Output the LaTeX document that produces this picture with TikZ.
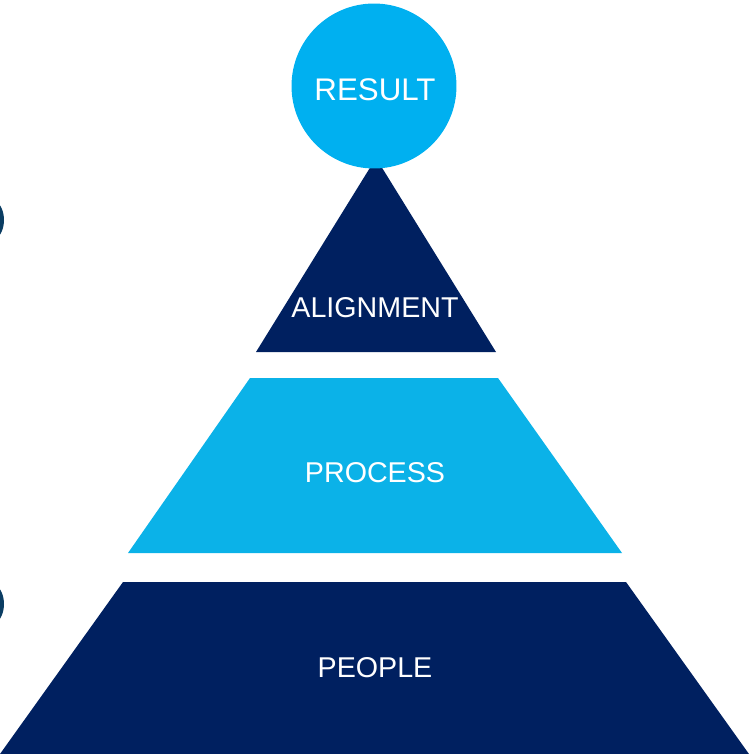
\documentclass[tikz,border=0pt]{standalone}
\usepackage{fontspec}
\setmainfont{Liberation Sans}
\usetikzlibrary{positioning}
\definecolor{navy}{HTML}{002060}
\definecolor{sky}{HTML}{00B0F0}
\definecolor{skylayer}{HTML}{0BB2E8}
\definecolor{knob}{HTML}{0B3D63}

\begin{document}
\begin{tikzpicture}[x=0.02cm, y=-0.02cm,
	layer text/.style={text=white, inner sep=0pt, font=\fontsize{16.3}{18}\selectfont},
	top ball/.style={circle, fill=sky, minimum size=3.3cm, inner sep=0pt}]
		\clip (0,0) rectangle (749,754);
		
		% markers cut by the left edge
		\fill[knob] (-26,220) circle[radius=30];
		\fill[knob] (-26,604) circle[radius=30];
		
		% pyramid layers
		\fill[navy] (376,158) -- (496,352) -- (256,352) -- cycle;
		\fill[skylayer] (250,378) -- (498,378) -- (622,553) -- (128,553) -- cycle;
		\fill[navy] (123,582) -- (626,582) -- (749,754) -- (0,754) -- cycle;
		
		\node[top ball] (result) at (374,86) {};
		
		\node[layer text, font=\fontsize{17.8}{19}\selectfont] (resultlabel) at (375,90) {RESULT};
		\node[layer text] (alignment) at (375,308) {ALIGNMENT};
		\node[layer text] (process) at (375,473) {PROCESS};
		\node[layer text] (people) at (375,668) {PEOPLE};
	\end{tikzpicture}
\end{document}
